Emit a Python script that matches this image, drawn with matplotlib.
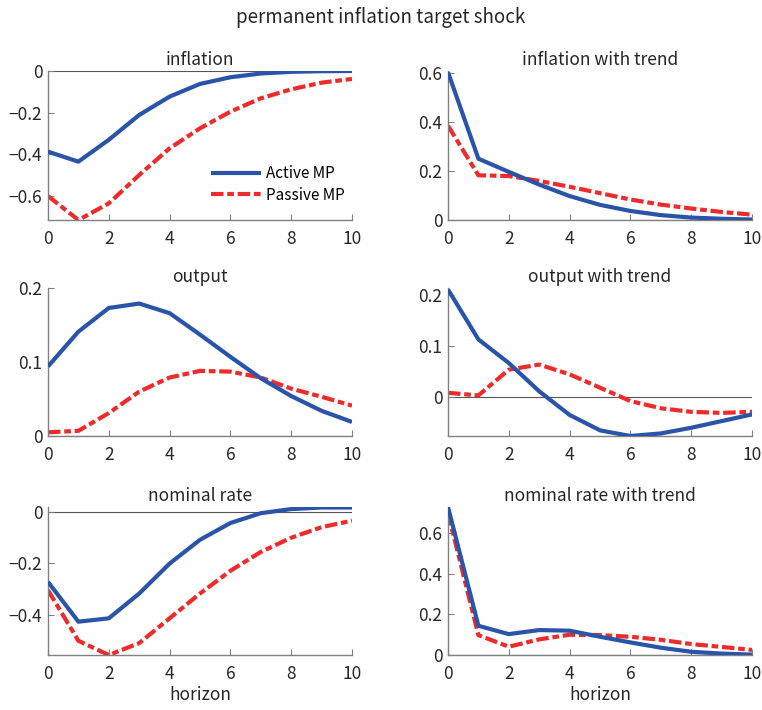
import matplotlib
matplotlib.use("Agg")
import matplotlib.pyplot as plt
import numpy as np

plt.rcParams['font.family'] = ['Noto Sans CJK JP', 'DejaVu Sans']

horizon = np.arange(11)

titles = ["inflation", "inflation with trend", "output", "output with trend",
          "nominal rate", "nominal rate with trend"]

active = {
    "inflation": [-0.387, -0.435, -0.33, -0.211, -0.123, -0.062, -0.03, -0.012, -0.004, -0.001, 0.0],
    "inflation with trend": [0.605, 0.251, 0.197, 0.145, 0.098, 0.062, 0.037, 0.02, 0.01, 0.005, 0.002],
    "output": [0.094, 0.141, 0.173, 0.179, 0.166, 0.137, 0.107, 0.078, 0.054, 0.034, 0.019],
    "output with trend": [0.21, 0.113, 0.067, 0.012, -0.034, -0.064, -0.075, -0.07, -0.059, -0.046, -0.033],
    "nominal rate": [-0.272, -0.426, -0.413, -0.317, -0.201, -0.109, -0.044, -0.006, 0.01, 0.016, 0.016],
    "nominal rate with trend": [0.73, 0.144, 0.103, 0.123, 0.12, 0.09, 0.062, 0.036, 0.016, 0.007, 0.002],
}
passive = {
    "inflation": [-0.60, -0.715, -0.635, -0.499, -0.371, -0.275, -0.195, -0.131, -0.088, -0.056, -0.038],
    "inflation with trend": [0.386, 0.183, 0.18, 0.16, 0.136, 0.11, 0.084, 0.063, 0.047, 0.033, 0.022],
    "output": [0.005, 0.007, 0.031, 0.060, 0.079, 0.088, 0.087, 0.079, 0.064, 0.053, 0.041],
    "output with trend": [0.009, 0.004, 0.054, 0.064, 0.045, 0.019, -0.007, -0.021, -0.028, -0.03, -0.028],
    "nominal rate": [-0.304, -0.50, -0.555, -0.509, -0.413, -0.317, -0.229, -0.156, -0.101, -0.06, -0.035],
    "nominal rate with trend": [0.70, 0.098, 0.041, 0.077, 0.10, 0.098, 0.09, 0.075, 0.054, 0.04, 0.025],
}
ylims = {
    "inflation": (-0.715, 0.0),
    "inflation with trend": (0.0, 0.61),
    "output": (0.0, 0.2),
    "output with trend": (-0.075, 0.213),
    "nominal rate": (-0.555, 0.018),
    "nominal rate with trend": (0.0, 0.73),
}
yticks = {
    "inflation": [-0.6, -0.4, -0.2, 0],
    "inflation with trend": [0, 0.2, 0.4, 0.6],
    "output": [0, 0.1, 0.2],
    "output with trend": [0, 0.1, 0.2],
    "nominal rate": [-0.4, -0.2, 0],
    "nominal rate with trend": [0, 0.2, 0.4, 0.6],
}

BLUE = '#2A54A8'
RED = '#EE2B2B'
TXT = '#262626'
SP = '#808080'

fig = plt.figure(figsize=(7.62, 7.10), dpi=100)
fig.text(0.5, 0.975, "permanent inflation target shock", ha='center', va='center',
         fontsize=13.5, color=TXT)

lefts = [48 / 762, 448 / 762]
w = 304 / 762
rows = [(71, 220), (288, 436), (507, 655)]

def fmt(v):
    if v == 0:
        return "0"
    s = ("%g" % v)
    return s.replace('-', '\u2212')

for i, t in enumerate(titles):
    r, c = divmod(i, 2)
    top, bot = rows[r]
    ax = fig.add_axes([lefts[c], 1 - bot / 710, w, (bot - top) / 710])
    ax.axhline(0, color='#555555', lw=0.8, zorder=1)
    ax.plot(horizon, active[t], color=BLUE, lw=3.0, label='Active MP', zorder=3,
            solid_capstyle='butt')
    ax.plot(horizon, passive[t], color=RED, lw=3.0, label='Passive MP', zorder=2,
            linestyle=(0, (3.0, 0.9, 1.6, 0.9)), dash_capstyle='butt')
    ax.set_xlim(0, 10)
    ax.set_ylim(*ylims[t])
    ax.set_xticks([0, 2, 4, 6, 8, 10])
    ax.set_yticks(yticks[t])
    ax.set_yticklabels([fmt(v) for v in yticks[t]])
    for s in ['top', 'right']:
        ax.spines[s].set_visible(False)
    for s in ['left', 'bottom']:
        ax.spines[s].set_color(SP)
        ax.spines[s].set_linewidth(1.0)
    ax.tick_params(direction='in', length=4, color=SP, labelcolor=TXT, labelsize=12.5)
    ax.tick_params(axis='x', pad=7)
    ax.tick_params(axis='y', pad=4)
    ax.set_title(t, fontsize=12.5, color=TXT, pad=4)
    if r == 2:
        ax.set_xlabel("horizon", fontsize=12.5, color=TXT, labelpad=2)
    if i == 0:
        ax.legend(loc='upper left', bbox_to_anchor=(0.516, 0.41), frameon=False,
                  fontsize=11, handlelength=3.3, handletextpad=0.3,
                  labelspacing=0.3, borderaxespad=0)

fig.savefig("out.png", dpi=100)
